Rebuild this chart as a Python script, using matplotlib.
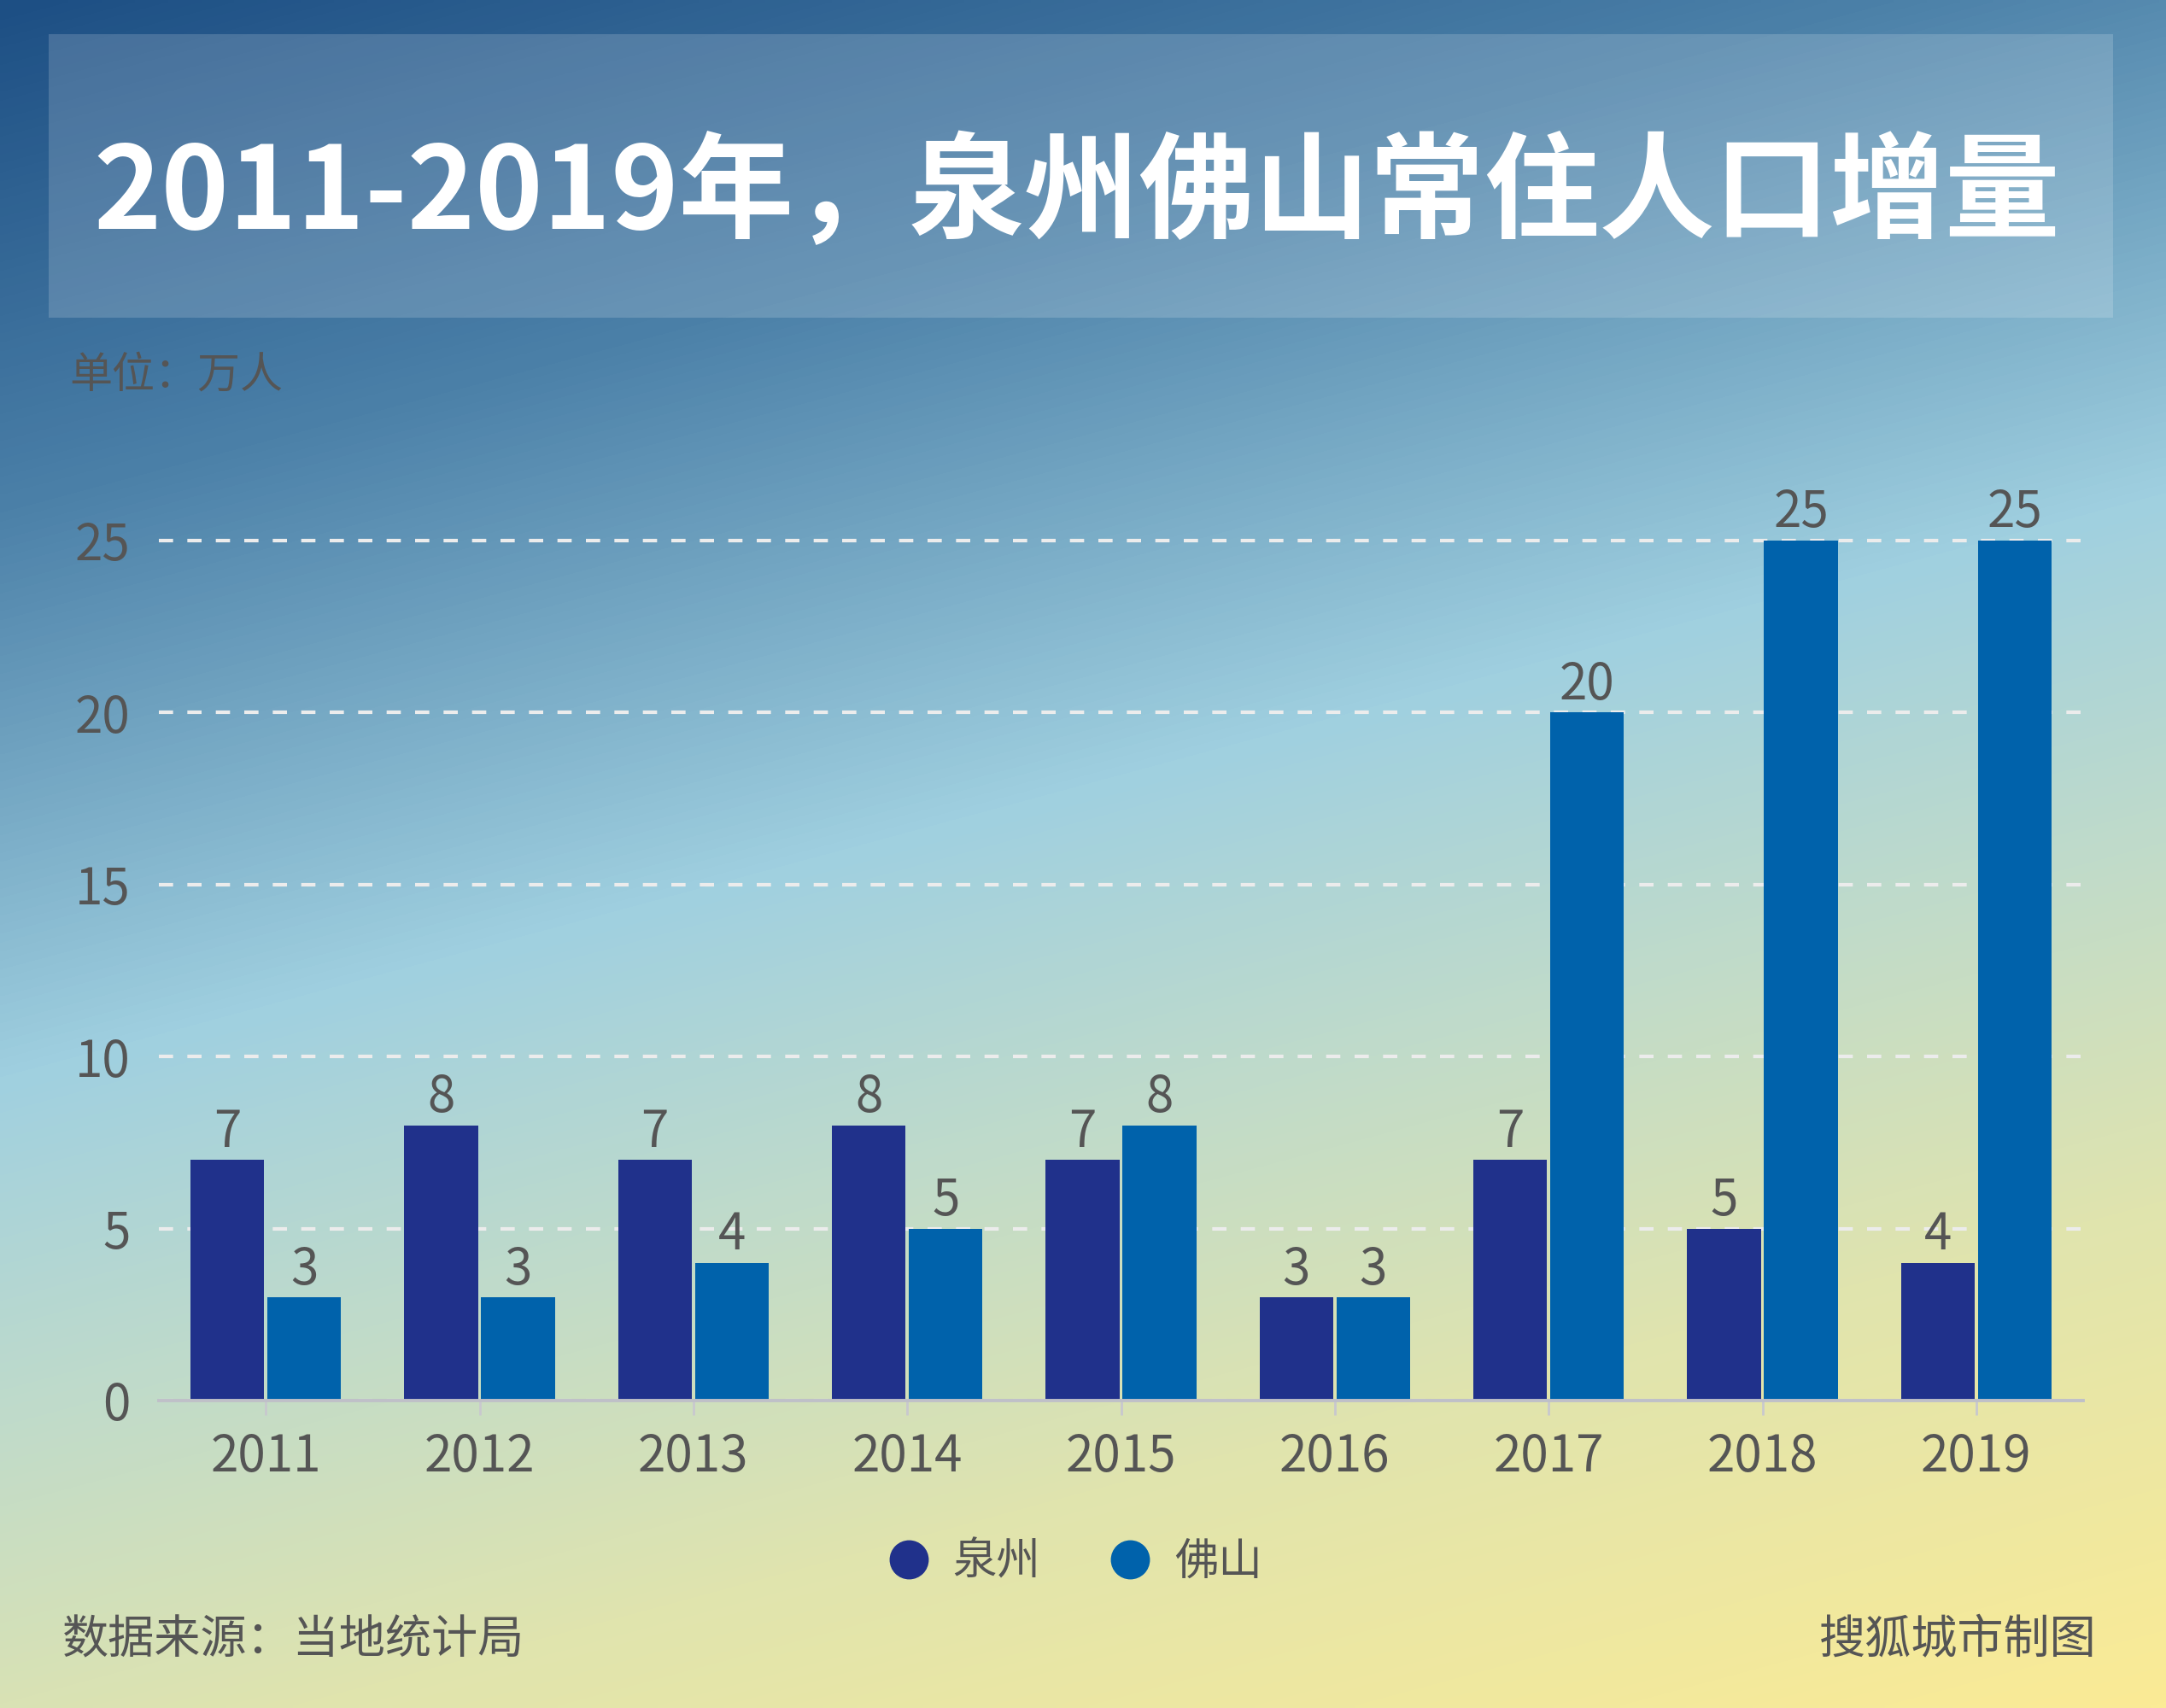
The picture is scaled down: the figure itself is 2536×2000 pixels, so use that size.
import numpy as np
import matplotlib
matplotlib.use("Agg")
import matplotlib.pyplot as plt
from matplotlib.colors import LinearSegmentedColormap
from matplotlib.lines import Line2D
from matplotlib.patches import Rectangle

plt.rcParams['font.family'] = ['Noto Sans CJK SC', 'DejaVu Sans']

# data
years = ['2011', '2012', '2013', '2014', '2015', '2016', '2017', '2018', '2019']
quanzhou = [7, 8, 7, 8, 7, 3, 7, 5, 4]
foshan = [3, 3, 4, 5, 8, 3, 20, 25, 25]
series_names = ['泉州', '佛山']
yticks = [0, 5, 10, 15, 20, 25]

c_qz = '#20318b'
c_fs = '#0062ab'
text_grey = '#555555'

fig = plt.figure(figsize=(25.36, 20), dpi=100)

# diagonal gradient background
bg = fig.add_axes([0, 0, 1, 1], zorder=-10)
h, w = 400, 507
yy, xx = np.mgrid[0:h, 0:w]
u = (yy / h * 1237 + 0.27 * xx / w * 1568) / (1237 + 0.27 * 1568)
cmap = LinearSegmentedColormap.from_list('bg', [
    (0.0, '#1d4f84'), (0.22, '#4b80a8'), (0.47, '#a0d0e0'),
    (0.62, '#c0dbca'), (0.78, '#e0e4ae'), (1.0, '#fbeb95')])
bg.imshow(u, cmap=cmap, aspect='auto', interpolation='bilinear', vmin=0, vmax=1)
bg.axis('off')

# title box
fig.patches.append(Rectangle((57 / 2536, 1 - 372 / 2000), (2474 - 57) / 2536, 332 / 2000,
                             transform=fig.transFigure, facecolor='white', alpha=0.17,
                             edgecolor='none', zorder=-5))
fig.text(0.497, 0.8855, '2011-2019年，泉州佛山常住人口增量', color='white',
         fontsize=97, fontweight='bold', ha='center', va='center')
fig.text(81 / 2536, 1 - 440 / 2000, '单位：万人', color=text_grey, fontsize=36,
         ha='left', va='center')

ax = fig.add_axes([186 / 2536, 0.18, (2439 - 186) / 2536, 0.544])
ax.set_facecolor('none')
x = np.arange(len(years))
bw = 0.345
b1 = ax.bar(x - 0.18, quanzhou, bw, color=c_qz, zorder=3)
b2 = ax.bar(x + 0.18, foshan, bw, color=c_fs, zorder=3)
ax.bar_label(b1, padding=1, fontsize=42, color=text_grey)
ax.bar_label(b2, padding=1, fontsize=42, color=text_grey)

ax.set_xlim(-0.5, len(years) - 0.5)
ax.set_ylim(0, 27)
ax.set_yticks(yticks)
ax.set_xticks(x)
ax.set_xticklabels(years)
ax.yaxis.grid(True, color='#ececec', linestyle=(0, (4, 4)), linewidth=3, zorder=1)
for s in ['top', 'right', 'left']:
    ax.spines[s].set_visible(False)
ax.spines['bottom'].set_color('#bfc0c8')
ax.spines['bottom'].set_linewidth(2.8)
ax.spines['bottom'].set_zorder(4)
ax.tick_params(axis='y', length=0, pad=24, labelsize=42, labelcolor=text_grey)
ax.tick_params(axis='x', length=12, width=2, color='#c8c8ce', pad=14,
               labelsize=42, labelcolor=text_grey)

handles = [Line2D([], [], marker='o', linestyle='none', markersize=32, color=c)
           for c in (c_qz, c_fs)]
fig.legend(handles, series_names, loc='center', bbox_to_anchor=(0.496, 0.0855),
           ncol=2, frameon=False, fontsize=37, labelcolor=text_grey,
           handlelength=1, handletextpad=0.5, columnspacing=1.55)

fig.text(73 / 2536, 1 - 1921 / 2000, '数据来源：当地统计局', color=text_grey,
         fontsize=39, ha='left', va='center')
fig.text(2455 / 2536, 1 - 1921 / 2000, '搜狐城市制图', color=text_grey,
         fontsize=39, ha='right', va='center')

fig.savefig('out.png', dpi=100)
